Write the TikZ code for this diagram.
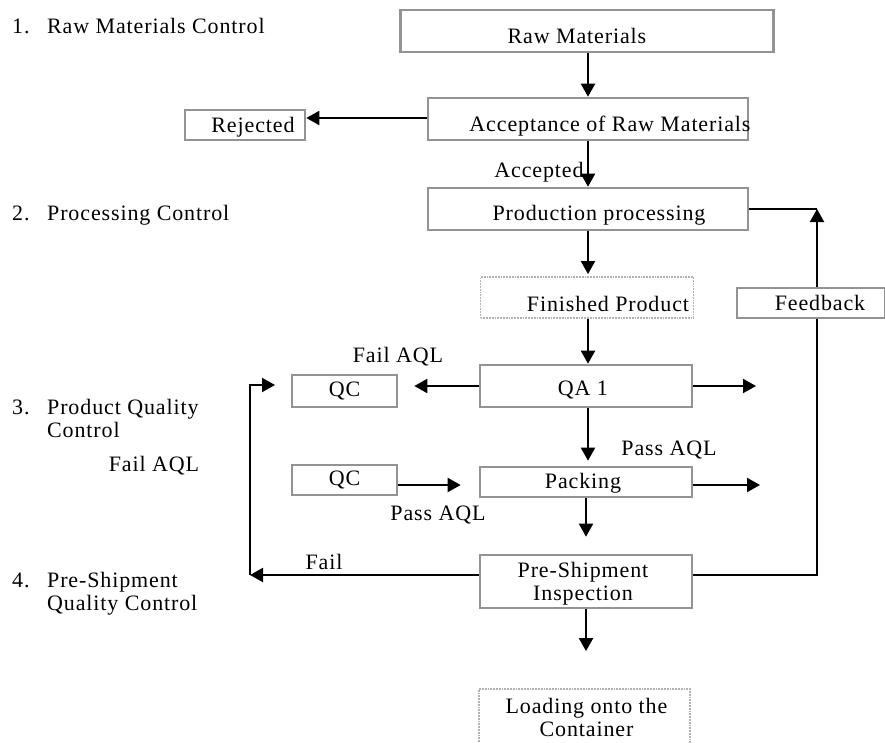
\documentclass[tikz,border=0pt]{standalone}
\usepackage{fontspec}
\setmainfont[LetterSpace=4]{Liberation Serif}
\usetikzlibrary{arrows.meta}
\begin{document}
\begin{tikzpicture}[x=1pt,y=-1pt,
  every node/.style={font=\fontsize{22}{23}\selectfont},
  box/.style={draw=gray!85, line width=2.6pt, rectangle, inner sep=0pt},
  fbox/.style={draw=gray!60, line width=1.8pt, densely dotted, rectangle, inner sep=0pt},
  lbl/.style={inner sep=0pt},
  arr/.style={line width=2pt, -{Triangle[length=13pt,width=14pt]}},
  ln/.style={line width=2pt}]
\useasboundingbox (0,0) rectangle (885,742);
% left-hand stage labels
\node[lbl, anchor=base west] (n1) at (12,33) {1.};
\node[lbl, anchor=base west] (s1) at (47,33) {Raw Materials Control};
\node[lbl, anchor=base west] (n2) at (12,220) {2.};
\node[lbl, anchor=base west] (s2) at (47,220) {Processing Control};
\node[lbl, anchor=base west] (n3) at (12,414) {3.};
\node[lbl, anchor=base west] (s3) at (47,414) {Product Quality};
\node[lbl, anchor=base west] (s3b) at (47,437) {Control};
\node[lbl, anchor=base west] (n4) at (12,587) {4.};
\node[lbl, anchor=base west] (s4) at (47,587) {Pre-Shipment};
\node[lbl, anchor=base west] (s4b) at (47,610) {Quality Control};
% boxes
\node[box, minimum width=373pt, minimum height=42pt,
  label={[lbl, xshift=-10pt, yshift=-5pt]center:Raw Materials}] (raw) at (587,31) {};
\node[box, minimum width=320pt, minimum height=42pt,
  label={[lbl, xshift=22pt, yshift=-7pt]center:Acceptance of Raw Materials}] (acc) at (588,119) {};
\node[box, minimum width=120pt, minimum height=30pt,
  label={[lbl, xshift=8pt, yshift=-2pt]center:Rejected}] (rej) at (245,125) {};
\node[box, minimum width=320pt, minimum height=42pt,
  label={[lbl, xshift=11pt, yshift=-6pt]center:Production processing}] (prod) at (588,209) {};
\node[fbox, minimum width=213pt, minimum height=41pt,
  label={[lbl, xshift=21pt, yshift=-6pt]center:Finished Product}] (fin) at (587,297.5) {};
\node[box, minimum width=148pt, minimum height=30pt,
  label={[lbl, xshift=9pt]center:Feedback}] (fb) at (811,303) {};
\node[box, minimum width=212pt, minimum height=42pt,
  label={[lbl, xshift=-3pt, yshift=-4pt]center:QA 1}] (qa) at (586,386) {};
\node[box, minimum width=105pt, minimum height=32pt] (qc1) at (344.5,391) {QC};
\node[box, minimum width=105pt, minimum height=30pt] (qc2) at (344.5,480) {QC};
\node[box, minimum width=212pt, minimum height=30pt,
  label={[lbl, xshift=-3pt, yshift=-1pt]center:Packing}] (pack) at (586,482) {};
\node[box, minimum width=212pt, minimum height=53pt,
  label={[lbl, xshift=-3pt, yshift=-2pt, align=center]center:Pre-Shipment\\Inspection}] (pre) at (586,581.5) {};
\node[fbox, minimum width=211pt, minimum height=56pt,
  label={[lbl, xshift=2pt, align=center]center:Loading onto the\\Container}] (load) at (584.5,717) {};
% edge labels
\node[lbl] (acct) at (539,172) {Accepted};
\node[lbl] (failtop) at (398,357) {Fail AQL};
\node[lbl] (passr) at (669,450) {Pass AQL};
\node[lbl] (passl) at (438,515) {Pass AQL};
\node[lbl] (failt) at (324,562) {Fail};
\node[lbl] (faill) at (154,466) {Fail AQL};
% helper coordinates
\coordinate (fbc) at (817,209);
\coordinate (cl) at (250,575);
\coordinate (cltop) at (250,385);
\coordinate (qcin) at (275,385);
\coordinate (qaout) at (756,386);
\coordinate (packout) at (760,485);
% connectors
\draw[arr] (raw.south -| acc.north) -- (acc.north);
\draw[arr] ([yshift=1pt]acc.west) -- ([yshift=1pt]rej.east |- acc.west);
\draw[arr] (acc.south) -- (prod.north);
\draw[arr] (prod.south) -- ([yshift=2pt]fin.north -| prod.south);
\draw[arr] (fin.south -| prod.south) -- (qa.north -| prod.south);
\draw[arr] (qa.west) -- ([xshift=16pt]qc1.east |- qa.west);
\draw[arr] (qa.east) -- (qaout);
\draw[arr] (qa.south -| prod.south) -- ([yshift=5pt]pack.north -| prod.south);
\draw[arr] (qc2.east |- packout) -- ([xshift=-18pt]pack.west |- packout);
\draw[arr] (pack.east |- packout) -- (packout);
\draw[arr] (pack.south) -- ([yshift=17pt]pre.north);
\draw[arr] (pre.south) -- ([yshift=37pt]load.north -| pre.south);
\draw[arr] (pre.west |- cl) -- (cl);
\draw[arr] (cl) -- (cltop) -- (qcin);
\draw[arr] (fb.north -| fbc) -- (fbc);
\draw[ln] (prod.east) -- (fbc);
\draw[ln] (pre.east |- cl) -- (cl -| fbc) -- (fb.south -| fbc);
\end{tikzpicture}
\end{document}
